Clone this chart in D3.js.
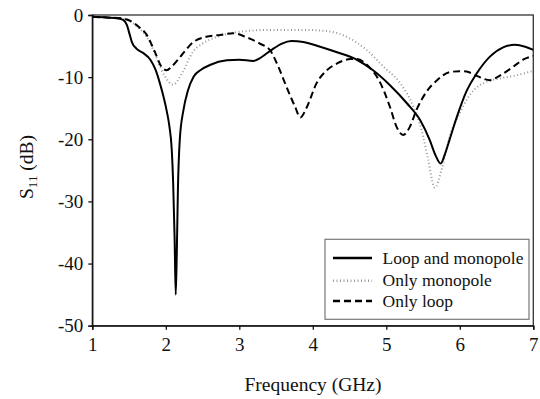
<!DOCTYPE html>
<html><head><meta charset="utf-8">
<script src="https://cdn.jsdelivr.net/npm/d3@7/dist/d3.min.js"></script>
<style>body{margin:0;background:#fff}svg{display:block}svg text{font-family:'Liberation Serif','Times New Roman',Times,'DejaVu Serif',serif !important;fill:#111}</style>
</head><body><svg id="c" width="540" height="399"></svg>
<script>
const xTicks = [1,2,3,4,5,6,7];
const yTicks = [0,-10,-20,-30,-40,-50];
const seriesNames = ["Loop and monopole","Only monopole","Only loop"];
const loopAndMonopole = [[1.0,-0.3],[1.2,-0.4],[1.35,-0.55],[1.42,-0.8],[1.47,-1.6],[1.51,-3.2],[1.54,-4.4],[1.6,-5.4],[1.69,-6.1],[1.79,-7.2],[1.86,-8.8],[1.92,-11],[1.97,-13.2],[2.01,-15.3],[2.05,-18],[2.08,-21.5],[2.1,-27],[2.12,-36],[2.135,-45],[2.15,-38],[2.165,-28],[2.19,-20.1],[2.24,-15.3],[2.3,-12.2],[2.38,-9.9],[2.48,-8.8],[2.6,-8.05],[2.83,-7.3],[3.0,-7.2],[3.19,-7.4],[3.3,-6.8],[3.44,-5.6],[3.58,-4.6],[3.71,-4.2],[3.87,-4.35],[4.1,-5.1],[4.33,-6.0],[4.6,-7.2],[4.82,-8.9],[5.05,-11.3],[5.28,-14.2],[5.46,-16.9],[5.59,-20.1],[5.67,-22.6],[5.74,-23.9],[5.8,-22.3],[5.86,-20.1],[5.96,-16.4],[6.09,-12.3],[6.23,-9.4],[6.41,-6.7],[6.59,-5.2],[6.75,-4.8],[6.89,-5.1],[7.0,-5.6]];
const onlyMonopole = [[1.0,-0.3],[1.2,-0.4],[1.4,-0.55],[1.5,-0.9],[1.63,-2.1],[1.74,-3.5],[1.85,-6.2],[1.93,-8.6],[1.99,-9.9],[2.1,-11.2],[2.22,-9.4],[2.37,-5.9],[2.5,-4.6],[2.7,-3.5],[3.01,-2.7],[3.42,-2.4],[3.87,-2.4],[4.2,-2.6],[4.33,-2.9],[4.46,-3.5],[4.73,-5.6],[4.96,-8.3],[5.19,-11],[5.37,-14.8],[5.48,-18.5],[5.57,-23.3],[5.66,-27.8],[5.75,-25],[5.86,-19.6],[6.0,-15.8],[6.1,-13.5],[6.2,-12],[6.37,-10.7],[6.55,-10.2],[6.77,-9.7],[7.0,-9.0]];
const onlyLoop = [[1.0,-0.3],[1.2,-0.4],[1.4,-0.55],[1.49,-0.8],[1.63,-1.9],[1.74,-3.2],[1.85,-5.9],[1.94,-8.3],[2.01,-8.9],[2.08,-8.3],[2.22,-6.4],[2.37,-4.4],[2.55,-3.5],[2.74,-3.2],[2.92,-2.95],[3.1,-3.6],[3.28,-4.6],[3.42,-5.7],[3.53,-8.3],[3.64,-11.5],[3.76,-14.8],[3.83,-16.5],[3.92,-14.8],[4.05,-11],[4.19,-8.9],[4.33,-7.8],[4.51,-7.1],[4.6,-7.1],[4.76,-8.3],[4.9,-10.5],[5.05,-14.8],[5.14,-18],[5.23,-19.3],[5.32,-18],[5.41,-15.3],[5.55,-12.3],[5.69,-10.5],[5.86,-9.2],[6.0,-9.05],[6.09,-9.1],[6.23,-9.8],[6.41,-10.5],[6.55,-9.7],[6.73,-8.3],[6.86,-7.2],[7.0,-6.6]];

const FONT = "'Liberation Serif','Times New Roman',Times,'DejaVu Serif',serif";
const svg = d3.select("#c");
const L=92.3, R=533.3, T=15, B=325.7;
const x = d3.scaleLinear().domain([1,7]).range([L,R]);
const y = d3.scaleLinear().domain([-50,0]).range([B,T]);

svg.append("rect").attr("x",L).attr("y",T).attr("width",R-L).attr("height",B-T)
  .attr("fill","none").attr("stroke","#333").attr("stroke-width",1.3);

const xa = svg.append("g").attr("transform",`translate(0,${B})`)
  .call(d3.axisBottom(x).tickValues(xTicks).tickSize(4).tickPadding(8).tickFormat(d3.format("d")));
const ya = svg.append("g").attr("transform",`translate(${L},0)`)
  .call(d3.axisLeft(y).tickValues(yTicks).tickSize(4).tickPadding(5).tickFormat(d=>d===0?"0":"-"+Math.abs(d)));
[xa,ya].forEach(a=>{a.attr("font-family",FONT);
  a.select(".domain").attr("stroke","#111").attr("stroke-width",1.3);
  a.selectAll(".tick line").attr("stroke","#111").attr("stroke-width",1.3);
  a.selectAll("text").style("font-family",FONT).attr("font-size",19).attr("fill","#111");});

const line = d3.line().x(d=>x(d[0])).y(d=>y(d[1])).curve(d3.curveMonotoneX);
const styles = [
  {data:loopAndMonopole, stroke:"#000", w:2, dash:null},
  {data:onlyMonopole, stroke:"#999", w:2, dash:"1,2.5"},
  {data:onlyLoop, stroke:"#000", w:2, dash:"7,4"}
];
svg.append("clipPath").attr("id","cl").append("rect").attr("x",L).attr("y",T-2).attr("width",R-L).attr("height",B-T+2);
[styles[1],styles[2],styles[0]].forEach(s=>{
  svg.append("path").attr("d",line(s.data)).attr("fill","none").attr("stroke",s.stroke)
    .attr("stroke-width",s.w).attr("stroke-dasharray",s.dash).attr("clip-path","url(#cl)");
});

const lg = svg.append("g");
lg.append("rect").attr("x",325).attr("y",239.3).attr("width",204).attr("height",80)
  .attr("fill","#fff").attr("stroke","#777").attr("stroke-width",1.2);
const rowY = [258, 280.7, 301];
styles.forEach((s,i)=>{
  lg.append("line").attr("x1",333).attr("x2",372).attr("y1",rowY[i]).attr("y2",rowY[i])
    .attr("stroke",s.stroke).attr("stroke-width",s.w+(i===0?0.3:0.5)).attr("stroke-dasharray",s.dash);
  lg.append("text").attr("x",382.5).attr("y",rowY[i]).attr("dy","0.33em").attr("font-size",17.5).style("font-family",FONT).text(seriesNames[i]);
});

svg.append("text").attr("x",313).attr("y",391).attr("text-anchor","middle").attr("font-size",19.5).style("font-family",FONT).text("Frequency (GHz)");
const yt = svg.append("text").attr("transform","translate(33,167) rotate(-90)").attr("text-anchor","middle").attr("font-size",19.5).style("font-family",FONT);
yt.append("tspan").text("S");
yt.append("tspan").attr("font-size",13).attr("dy",4).text("11");
yt.append("tspan").attr("dy",-4).text(" (dB)");
</script></body></html>
